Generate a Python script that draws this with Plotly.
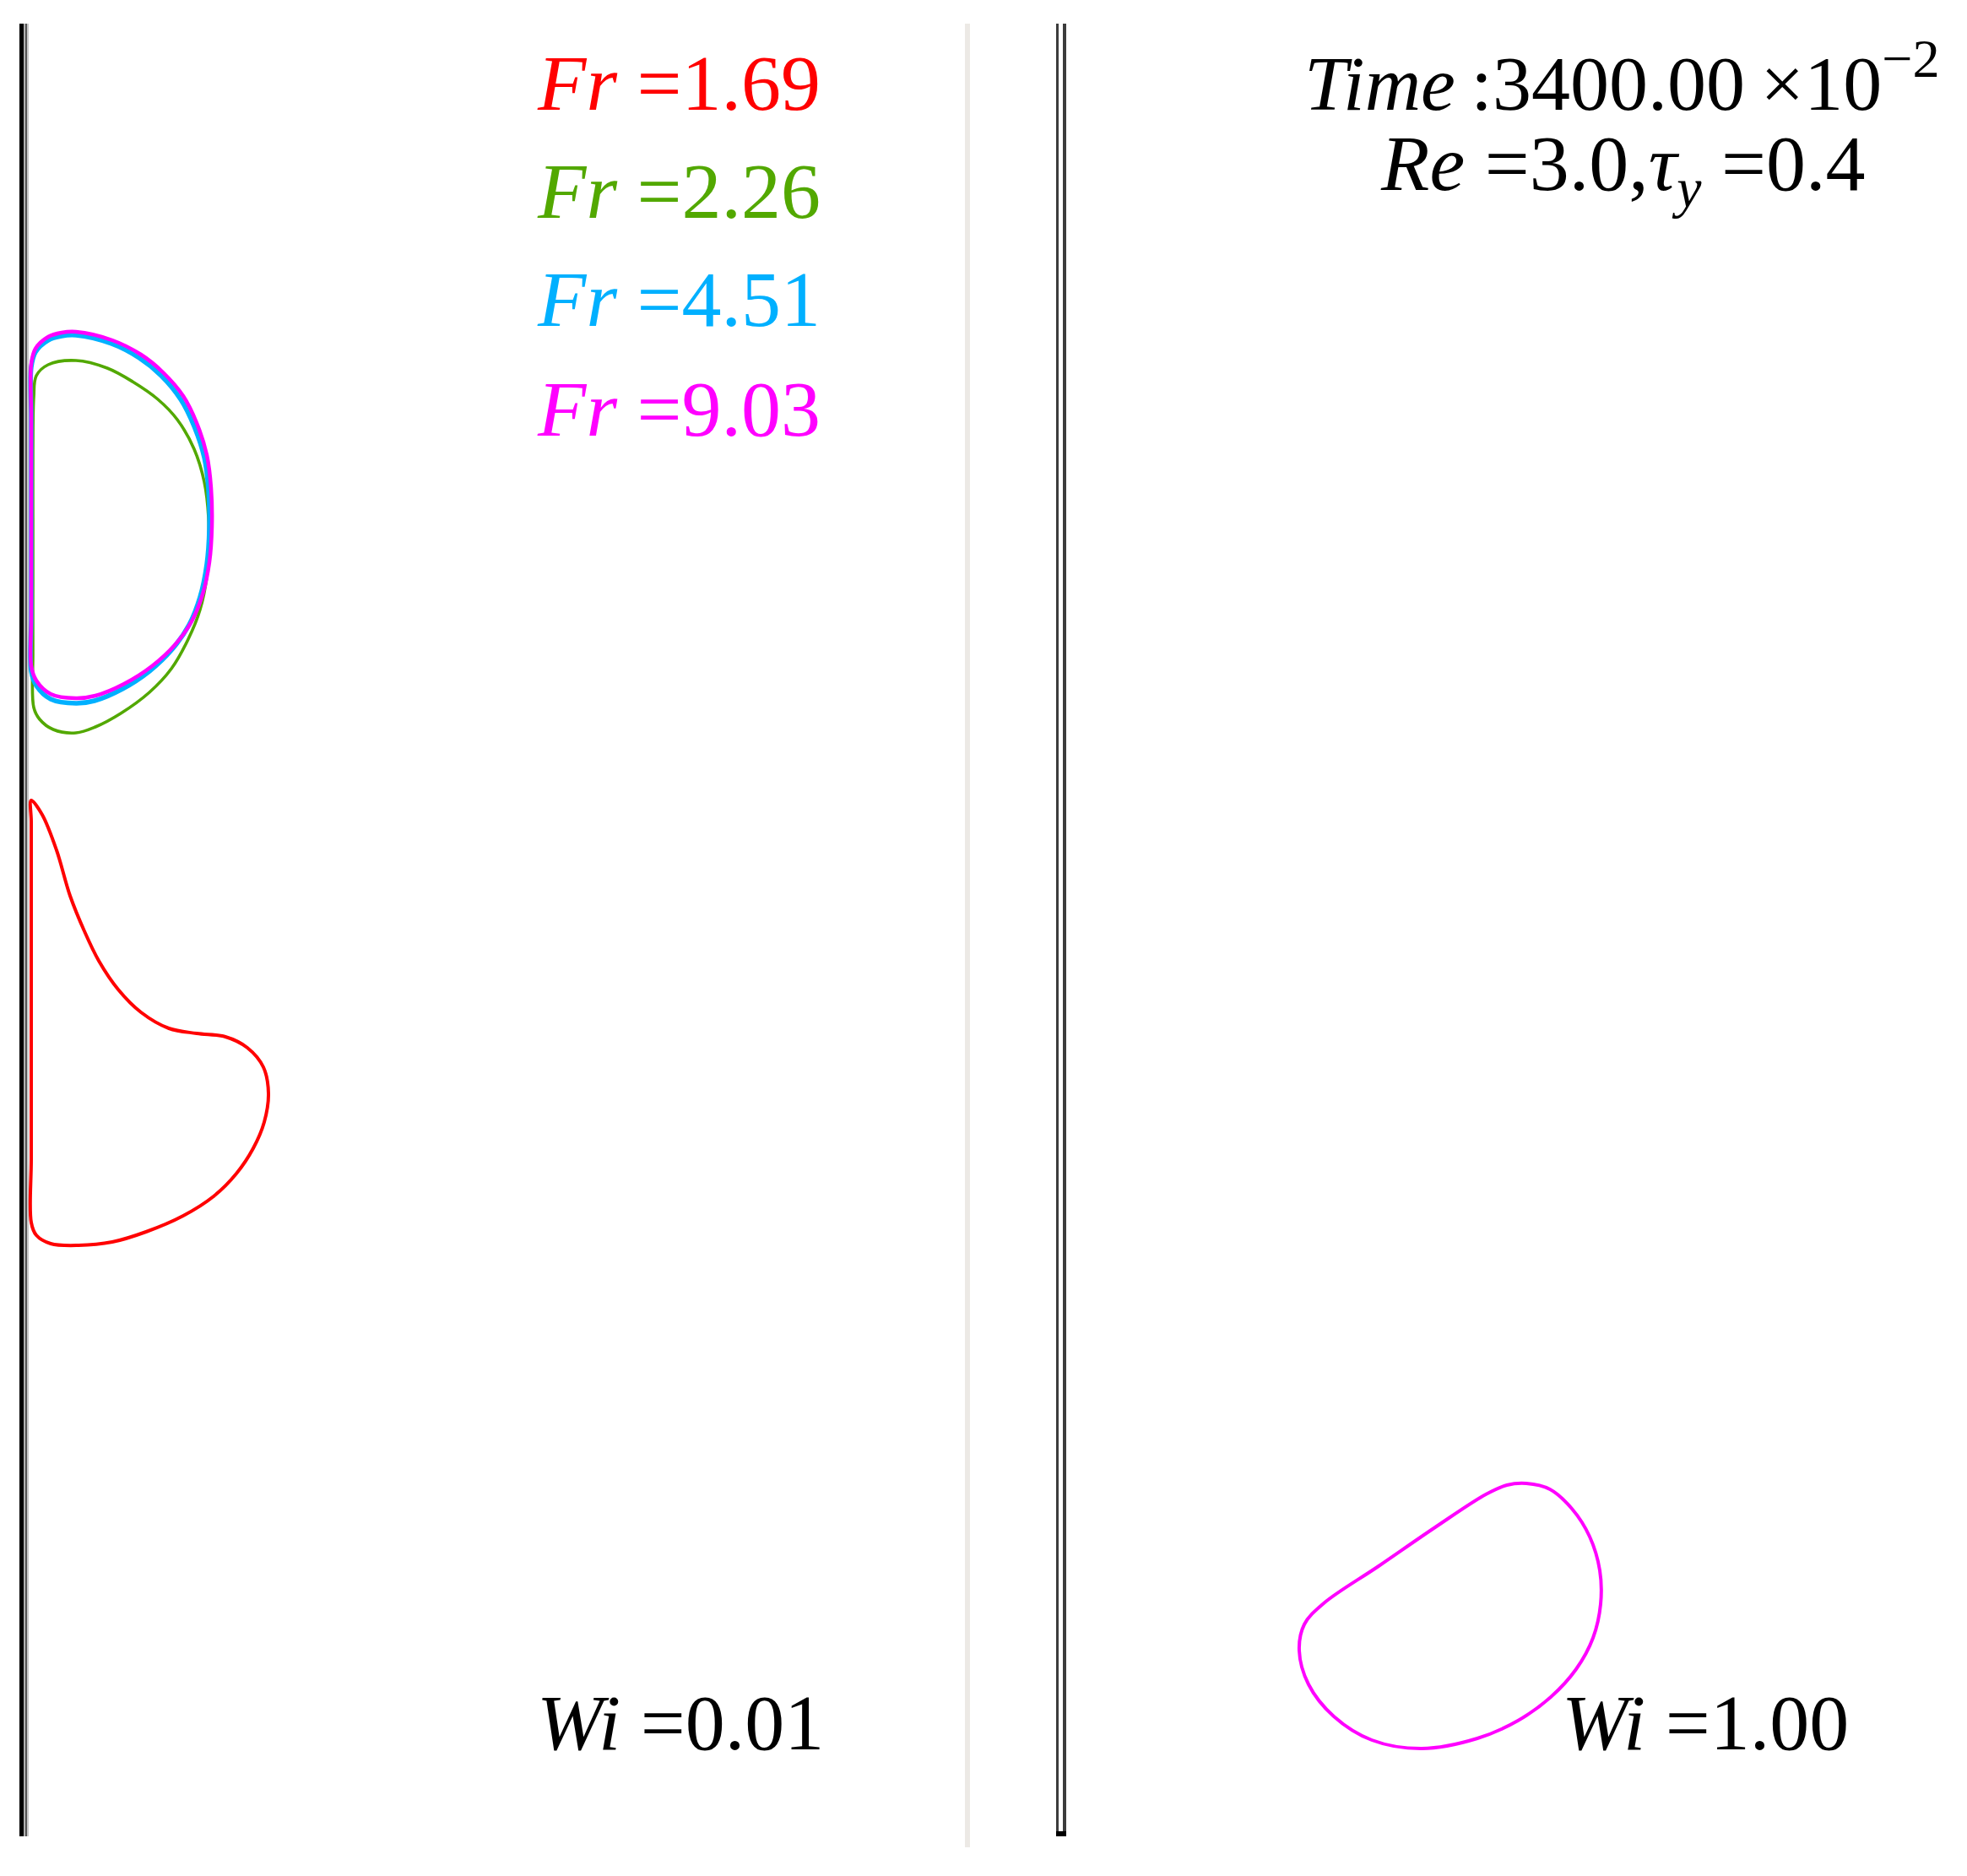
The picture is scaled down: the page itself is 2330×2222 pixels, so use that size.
import plotly.graph_objects as go

# ---------------- data (r, z) in tube units ----------------
fr_labels = ["1.69", "2.26", "4.51", "9.03"]

# Fr = 1.69 (red)
red_r = [0.05, 0.115, 0.20, 0.28, 0.365, 0.45, 0.565, 0.70, 0.865, 1.03, 1.20, 1.33, 1.425, 1.455,
         1.43, 1.365, 1.265, 1.13, 0.95, 0.73, 0.53, 0.33, 0.165, 0.08, 0.05,
         0.05, 0.05, 0.05, 0.05, 0.05, 0.05, 0.05]
red_z = [6.125, 6.04, 5.83, 5.56, 5.35, 5.175, 5.005, 4.87, 4.775, 4.745, 4.725, 4.66, 4.545, 4.39,
         4.22, 4.065, 3.915, 3.78, 3.665, 3.57, 3.51, 3.49, 3.50, 3.55, 3.625,
         4.0, 4.5, 5.0, 5.5, 5.8, 6.0, 6.125]

# Fr = 2.26 (green)
green_r = [0.065, 0.06, 0.06, 0.06, 0.06, 0.065, 0.08, 0.15, 0.315, 0.50, 0.65, 0.80, 0.915, 1.015, 1.075,
           1.10, 1.10, 1.09, 1.05, 0.98, 0.88, 0.75, 0.58, 0.43, 0.315, 0.18, 0.10, 0.065]
green_z = [6.675, 7.0, 7.4, 7.8, 8.2, 8.515, 8.64, 8.705, 8.73, 8.685, 8.605, 8.50, 8.38, 8.205, 8.01,
           7.80, 7.625, 7.45, 7.255, 7.08, 6.905, 6.765, 6.64, 6.56, 6.525, 6.545, 6.605, 6.675]

# Fr = 4.51 (blue)
blue_r = [0.05, 0.05, 0.05, 0.05, 0.05, 0.05, 0.075, 0.15, 0.23, 0.315, 0.525, 0.69, 0.82, 0.935, 1.015,
          1.075, 1.10, 1.105, 1.09, 1.05, 0.985, 0.885, 0.75, 0.59, 0.425, 0.315, 0.165, 0.08, 0.05]
blue_z = [6.89, 7.2, 7.6, 8.0, 8.4, 8.69, 8.78, 8.85, 8.875, 8.88, 8.83, 8.745, 8.64, 8.50, 8.34,
          8.155, 7.965, 7.735, 7.525, 7.33, 7.165, 7.02, 6.89, 6.785, 6.715, 6.70, 6.725, 6.805, 6.89]

# Fr = 9.03 (magenta)
mag_r = [0.05, 0.05, 0.05, 0.05, 0.05, 0.05, 0.075, 0.15, 0.23, 0.315, 0.53, 0.70, 0.83, 0.95, 1.03,
         1.09, 1.115, 1.12, 1.105, 1.065, 1.00, 0.90, 0.765, 0.60, 0.43, 0.315, 0.165, 0.08, 0.05]
mag_z = [6.92, 7.2, 7.6, 8.0, 8.4, 8.71, 8.80, 8.87, 8.895, 8.90, 8.85, 8.765, 8.66, 8.52, 8.36,
         8.17, 7.975, 7.745, 7.535, 7.345, 7.185, 7.045, 6.92, 6.815, 6.745, 6.73, 6.755, 6.835, 6.92]

# Wi = 1.00 panel, Fr = 9.03 (magenta)
wi1_r = [2.755, 2.895, 3.025, 3.13, 3.19, 3.195, 3.15, 3.05, 2.90, 2.705, 2.465, 2.135, 1.84, 1.615,
         1.465, 1.41, 1.44, 1.555, 1.88, 2.215, 2.515, 2.64, 2.755]
wi1_z = [2.08, 2.045, 1.93, 1.765, 1.565, 1.365, 1.165, 0.98, 0.815, 0.675, 0.57, 0.51, 0.56, 0.70,
         0.89, 1.09, 1.245, 1.37, 1.59, 1.82, 2.015, 2.07, 2.08]

wi_values = ["0.01", "1.00"]
time_value = "3400.00"
re_value = "3.0"
tau_value = "0.4"

# ---------------- figure ----------------
colors = {"1.69": "#ff0000", "2.26": "#52a800", "4.51": "#00b0ff", "9.03": "#ff00ff"}

fig = go.Figure()
left_series = [("1.69", red_r, red_z, 4), ("2.26", green_r, green_z, 3.6),
               ("4.51", blue_r, blue_z, 5.5), ("9.03", mag_r, mag_z, 4.5)]
for key, rr, zz, w in left_series:
    fig.add_trace(go.Scatter(x=rr, y=zz, mode="lines", xaxis="x", yaxis="y",
                             line=dict(color=colors[key], width=w, shape="spline", smoothing=1.0),
                             showlegend=False, hoverinfo="skip"))
fig.add_trace(go.Scatter(x=wi1_r, y=wi1_z, mode="lines", xaxis="x2", yaxis="y",
                         line=dict(color=colors["9.03"], width=4, shape="spline", smoothing=1.0),
                         showlegend=False, hoverinfo="skip"))

# page body has an 8 px margin: draw into the visible area
OFF = 8
W, H = 2330 - 2 * OFF, 2222 - 2 * OFF
half = W / 2
wall_l = 27 - OFF
wall_r = 1257 - OFF
z0 = 2173 - OFF
S = 200.0
ax_common = dict(visible=False, showgrid=False, zeroline=False, fixedrange=True)
fig.update_layout(
    width=W, height=H, margin=dict(l=0, r=0, t=0, b=0, pad=0),
    paper_bgcolor="white", plot_bgcolor="white",
    xaxis=dict(domain=[0, 0.5], range=[-wall_l / S, (half - wall_l) / S], **ax_common),
    xaxis2=dict(domain=[0.5, 1], range=[-(wall_r - half) / S, (W - wall_r) / S], anchor="y", **ax_common),
    yaxis=dict(domain=[0, 1], range=[-(H - z0) / S, z0 / S], **ax_common),
)

shapes = []
ztop = 10.725
# left wall
for x0, x1, c in [(-0.02, 0.005, "#000000"), (0.005, 0.015, "#b0b0b0"),
                  (0.015, 0.025, "#555555"), (0.025, 0.035, "#c8c8c8")]:
    shapes.append(dict(type="rect", xref="x", yref="y", x0=x0, x1=x1, y0=-0.01, y1=ztop,
                       fillcolor=c, line=dict(width=0), layer="below"))
# divider
shapes.append(dict(type="rect", xref="x", yref="y", x0=5.58, x1=5.61, y0=-0.075, y1=ztop,
                   fillcolor="#ece9e5", line=dict(width=0), layer="below"))
# right wall
for x0, x1 in [(-0.03, -0.015), (0.01, 0.03)]:
    shapes.append(dict(type="rect", xref="x2", yref="y", x0=x0, x1=x1, y0=-0.01, y1=ztop,
                       fillcolor="#3c3c3c", line=dict(width=0), layer="below"))
shapes.append(dict(type="rect", xref="x2", yref="y", x0=-0.03, x1=0.03, y0=-0.01, y1=0.02,
                   fillcolor="#000000", line=dict(width=0), layer="below"))
fig.update_layout(shapes=shapes)


def px(x, y):
    return (x - OFF) / W, 1 - (y - OFF) / H


FONT = "Liberation Serif"
FS = 94
ann = []
for key, ypx in zip(fr_labels, [98, 226, 354, 484]):
    xp, yp = px(634, ypx)
    ann.append(dict(xref="paper", yref="paper", x=xp, y=yp, xanchor="left", yanchor="middle",
                    showarrow=False, text=f"<i>Fr</i> =" + key,
                    font=dict(family=FONT, size=FS, color=colors[key])))
xp, yp = px(634, 2040)
ann.append(dict(xref="paper", yref="paper", x=xp, y=yp, xanchor="left", yanchor="middle",
                showarrow=False, text=f"<i>Wi</i> ={wi_values[0]}",
                font=dict(family=FONT, size=FS, color="black")))
xp, yp = px(1848, 2040)
ann.append(dict(xref="paper", yref="paper", x=xp, y=yp, xanchor="left", yanchor="middle",
                showarrow=False, text=f"<i>Wi</i> ={wi_values[1]}",
                font=dict(family=FONT, size=FS, color="black")))
xp, yp = px(1543, 92)
ann.append(dict(xref="paper", yref="paper", x=xp, y=yp, xanchor="left", yanchor="middle",
                showarrow=False, text=f"<i>Time</i>\u2009:{time_value}\u2009×10<sup>−2</sup>",
                font=dict(family=FONT, size=92, color="black")))
xp, yp = px(1633, 200)
ann.append(dict(xref="paper", yref="paper", x=xp, y=yp, xanchor="left", yanchor="middle",
                showarrow=False, text=f"<i>Re</i> ={re_value},<i>τ</i><sub><i>y</i></sub> ={tau_value}",
                font=dict(family=FONT, size=FS, color="black")))
fig.update_layout(annotations=ann)

fig.write_html("out.html")
